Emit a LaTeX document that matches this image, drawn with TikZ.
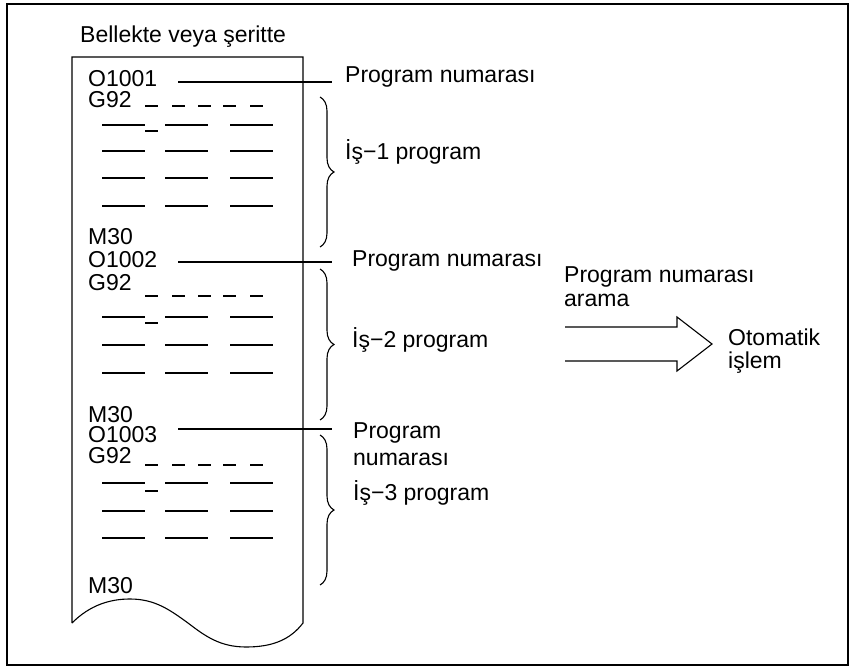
\documentclass[tikz,border=0pt]{standalone}
\usepackage{fontspec}
\setmainfont{Liberation Sans}
\usetikzlibrary{decorations.pathreplacing}
\begin{document}
\begin{tikzpicture}[x=1pt,y=-1pt,
  txt/.style={font=\fontsize{23}{27}\selectfont, inner sep=0pt, anchor=base west},
  ln/.style={line width=1.1pt},
  brc/.style={line width=1.1pt, decorate, decoration={brace, amplitude=14pt}},
]
\useasboundingbox (0,0) rectangle (856,668);
\draw[line width=1.5pt] (7,4) rectangle (848,665);
\node[txt] (title) at (80,43) {Bellekte veya şeritte};
% tape
\draw[ln] (72,623) -- (72,57) -- (303,57) -- (303,623)
  .. controls (290,640) and (272,647) .. (246,647)
  .. controls (220,647) and (205,636) .. (188,623)
  .. controls (170,610) and (155,599) .. (130,599)
  .. controls (110,599) and (90,605) .. (72,623);
% program texts
\node[txt] (o1) at (88,87) {O1001};
\node[txt] (g1) at (88,108) {G92};
\node[txt] (m1) at (88,244) {M30};
\node[txt] (o2) at (88,267) {O1002};
\node[txt] (g2) at (88,290) {G92};
\node[txt] (m2) at (88,422) {M30};
\node[txt] (o3) at (88,442) {O1003};
\node[txt] (g3) at (88,463) {G92};
\node[txt] (m3) at (88,593) {M30};
% dashes and rows
\foreach \d/\s in {106/131, 296/323, 465/491} {
  \foreach \x in {145,172,198,223,250} \draw[ln] (\x,\d) -- ++(13,0);
  \draw[ln] (145,\s) -- (158,\s);
}
\foreach \y in {125,151,178,206, 317,345,373, 483,511,538} {
  \draw[ln] (102,\y) -- (145,\y) (165,\y) -- (208,\y) (230,\y) -- (273,\y);
}
% labels
\node[txt] (pn1) at (345,83) {Program numarası};
\node[txt] (is1) at (345,160) {İş−1 program};
\node[txt] (pn2) at (352,266) {Program numarası};
\node[txt] (is2) at (352,347) {İş−2 program};
\node[txt] (pn3a) at (353,438) {Program};
\node[txt] (pn3b) at (353,465) {numarası};
\node[txt] (is3) at (353,500) {İş−3 program};
\node[txt] (sr1) at (564,283) {Program numarası};
\node[txt] (sr2) at (564,306) {arama};
\node[txt] (oi1) at (728,345) {Otomatik};
\node[txt] (oi2) at (728,368) {işlem};
% pointer lines
\coordinate (l1a) at (178,82); \coordinate (l1b) at (332,82);
\coordinate (l2a) at (178,262); \coordinate (l2b) at (332,262);
\coordinate (l3a) at (178,429); \coordinate (l3b) at (332,429);
\draw[ln] (l1a) -- (l1b);
\draw[ln] (l2a) -- (l2b);
\draw[ln] (l3a) -- (l3b);
% braces
\draw[brc] (320,97) -- (320,247);
\draw[brc] (320,269) -- (320,420);
\draw[brc] (320,435) -- (320,585);
% hollow arrow
\draw[ln] (565,327) -- (677,327) -- (677,317) -- (712,344) -- (677,371) -- (677,361) -- (565,361);
\end{tikzpicture}
\end{document}
